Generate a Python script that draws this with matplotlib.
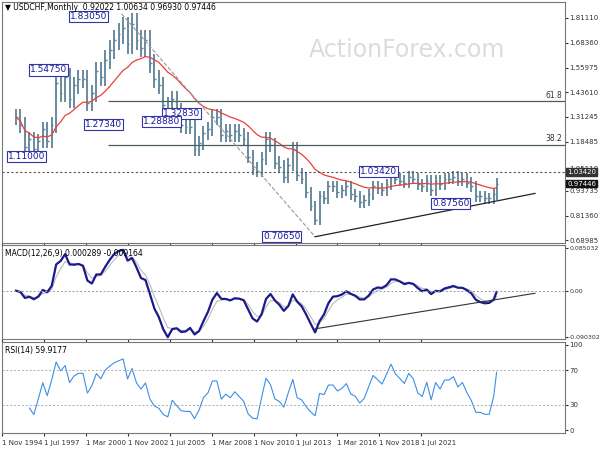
import matplotlib.pyplot as plt
import numpy as np
import pandas as pd

# closes, one every 3 months, Nov 1994 .. Oct 2021
closes = [1.31,
          1.27, 1.16, 1.20, 1.15, 1.19, 1.25, 1.19, 1.27,
          1.48, 1.43, 1.51, 1.40, 1.47, 1.50, 1.50, 1.38,
          1.43, 1.54, 1.51, 1.60, 1.65, 1.70, 1.73, 1.76,
          1.68, 1.78, 1.70, 1.66, 1.70, 1.58, 1.50, 1.47,
          1.37, 1.32, 1.40, 1.34, 1.27, 1.26, 1.26, 1.15,
          1.18, 1.23, 1.25, 1.31, 1.31, 1.22, 1.24, 1.22,
          1.24, 1.22, 1.20, 1.11, 1.05, 1.04, 1.10, 1.20,
          1.17, 1.08, 1.06, 1.01, 1.07, 1.15, 1.02, 1.00,
          0.93, 0.86, 0.79, 0.91, 0.90, 0.96, 0.96, 0.93,
          0.94, 0.96, 0.92, 0.91, 0.88, 0.89, 0.92, 0.96,
          0.95, 0.94, 0.97, 1.02, 1.00, 0.99, 0.98, 1.01,
          1.00, 0.97, 0.96, 0.99, 0.94, 0.99, 0.97, 1.00,
          1.00, 1.01, 0.99, 1.00, 0.98, 0.96, 0.91, 0.91,
          0.90, 0.90, 0.92, 0.97446]
price_ticks = [1.81110, 1.68360, 1.55975, 1.43610, 1.31245, 1.18485,
               1.05110, 0.93735, 0.81360, 0.68985]
date_labels = ["1 Nov 1994", "1 Jul 1997", "1 Mar 2000", "1 Nov 2002",
               "1 Jul 2005", "1 Mar 2008", "1 Nov 2010", "1 Jul 2013",
               "1 Mar 2016", "1 Nov 2018", "1 Jul 2021"]
# (text, left edge in reference pixels, price) of the swing labels
swings = [("1.83050", 70, 1.8305), ("1.54750", 30, 1.5475),
          ("1.27340", 85, 1.2734), ("1.11000", 8, 1.1100),
          ("1.32830", 163, 1.3283), ("1.28880", 143, 1.2888),
          ("1.03420", 360, 1.0342), ("0.87560", 432, 0.8756),
          ("0.70650", 263, 0.7065)]
fib_levels = [("61.8", 1.3904), ("38.2", 1.1705)]

c = np.array(closes)
m = np.arange(len(c)) * 3
m[-1] = 323
opens = np.r_[c[0], c[:-1]]
hi = np.maximum(opens, c) * 1.03
lo = np.minimum(opens, c) * 0.97
s = pd.Series(c)
ma = s.ewm(span=18).mean()
macd = s.ewm(span=4).mean() - s.ewm(span=9).mean()
sig = macd.ewm(span=3).mean()
d = s.diff()
up = d.clip(lower=0).ewm(alpha=1/5).mean()
dn = (-d.clip(upper=0)).ewm(alpha=1/5).mean()
rsi = 100 - 100/(1 + up/dn)


# pixel -> month mapping of the reference
def px2m(px):
    return (px - 16) / 1.488


RIGHT = 565
xlim = (px2m(2), px2m(RIGHT))
tick_pos = [px2m(p) for p in [2, 44, 86, 128, 170, 212, 254, 296, 337, 379, 421]]

fig = plt.figure(figsize=(6, 4.5), dpi=100)
W = (RIGHT - 2)/600
ax1 = fig.add_axes([2/600, 1-243/450, W, 241/450])
ax2 = fig.add_axes([2/600, 1-339/450, W, 94/450])
ax3 = fig.add_axes([2/600, 1-433/450, W, 91/450])
for ax in (ax1, ax2, ax3):
    ax.set_xlim(*xlim)
    ax.yaxis.tick_right()
    ax.tick_params(labelsize=5, length=2, pad=1, colors='#333333')
    ax.set_xticks(tick_pos)
    ax.set_xticklabels([])
    for sp in ax.spines.values():
        sp.set_color('#777777')

bar_col = '#5e8297'
ax1.vlines(m, lo, hi, color=bar_col, lw=1.3)
ax1.hlines(c, m, m + 1.2, color=bar_col, lw=1)
ax1.plot(m, ma, color='#e8403a', lw=0.9)
ax1.set_ylim(0.675, 1.89)
ax1.set_yticks(price_ticks)
ax1.set_yticklabels([f"{v:.5f}" for v in price_ticks])
ax1.axhline(1.0342, color='#555555', ls=(0, (2, 2)), lw=0.8)
for name, lv in fib_levels:
    ax1.hlines(lv, px2m(108), xlim[1], color='#4d5e5e', lw=0.9)
    ax1.text(xlim[1] - 2, lv + 0.008, name, fontsize=5.5, ha='right',
             va='bottom', color='#333333')
ax1.plot([71, 201], [1.8305, 0.7065], color='#999999', ls='--', lw=0.8)
ax1.plot([201, px2m(535)], [0.7065, 0.925], color='#222222', lw=0.9)
for txt, px, p in swings:
    ax1.text(px2m(px), min(p, 1.815), txt, fontsize=6.5, color='#1a1a9c',
             ha='left', va='center',
             bbox=dict(boxstyle='square,pad=0.12', fc='white',
                       ec='#3333aa', lw=0.8))
for txt, p, fc in [("1.03420", 1.0342, '#333333'),
                   ("0.97446", 0.97446, '#111111')]:
    ax1.text(1.004, p, txt, transform=ax1.get_yaxis_transform(),
             fontsize=5, color='white', va='center',
             bbox=dict(boxstyle='square,pad=0.12', fc=fc, ec=fc))
ax1.text(0.005, 0.994, "\u25bc USDCHF,Monthly  0.92022 1.00634 0.96930 0.97446",
         transform=ax1.transAxes, fontsize=5.5, va='top', zorder=5)
ax1.text(0.72, 0.8, "ActionForex.com", transform=ax1.transAxes,
         fontsize=17, color='#d8dde2', ha='center', va='center', zorder=0)

ax2.plot(m, sig, color='#bbbbbb', lw=0.8)
ax2.plot(m, macd, color='#1a1a8c', lw=1.6)
ax2.axhline(0, color='#999999', ls=(0, (2, 2)), lw=0.7)
ax2.plot([201, px2m(535)], [-0.075, -0.005], color='#333333', lw=0.8)
ax2.set_ylim(-0.095, 0.09)
ax2.set_yticks([0.085032, 0.0, -0.090302])
ax2.set_yticklabels(["0.085032", "0.00", "-0.090302"])
ax2.tick_params(axis='y', labelsize=4.5)
ax2.text(0.005, 0.96, "MACD(12,26,9) 0.000289 -0.009164",
         transform=ax2.transAxes, fontsize=5.5, va='top')

ax3.plot(m[3:], rsi[3:], color='#3d8ee6', lw=0.8)
for lv in (70, 30):
    ax3.axhline(lv, color='#aaaaaa', ls=(0, (2, 2)), lw=0.7)
ax3.set_ylim(-3, 103)
ax3.set_yticks([100, 70, 30, 0])
ax3.text(0.005, 0.96, "RSI(14) 59.9177", transform=ax3.transAxes,
         fontsize=5.5, va='top')
ax3.set_xticklabels(date_labels, ha='left')
ax3.tick_params(axis='x', pad=3)

fig.savefig("out.png", dpi=100)
